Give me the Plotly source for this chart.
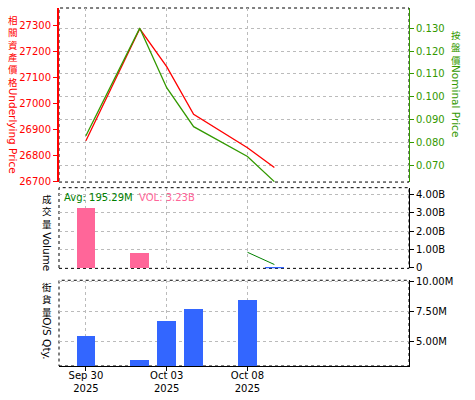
import pandas as pd
import plotly.graph_objects as go

# ---- data ------------------------------------------------------------------
dates = ["2025-09-30", "2025-10-02", "2025-10-03", "2025-10-06", "2025-10-08", "2025-10-09"]
underlying = [26856, 27287, 27141, 26958, 26829, 26753]
nominal = [0.083, 0.130, 0.104, 0.087, 0.074, 0.063]

vol_dates = ["2025-09-30", "2025-10-02", "2025-10-09"]
volume = [3.28e9, 0.85e9, 0.05e9]
vol_colors = ["#ff6699", "#ff6699", "#3366ff"]

avg_dates = ["2025-10-08", "2025-10-09"]
avg_volume = [0.85e9, 0.18e9]

os_dates = ["2025-09-30", "2025-10-02", "2025-10-03", "2025-10-06", "2025-10-08"]
os_qty = [5.41e6, 3.43e6, 6.66e6, 7.65e6, 8.48e6]

tick_dates = ["2025-09-30", "2025-10-03", "2025-10-08"]
tick_text = ["Sep 30<br>2025", "Oct 03<br>2025", "Oct 08<br>2025"]

vol_ticks = [0, 1e9, 2e9, 3e9, 4e9]
vol_ticktext = ["0", "1.00B", "2.00B", "3.00B", "4.00B"]
os_ticks = [5e6, 7.5e6, 10e6]
os_ticktext = ["5.00M", "7.50M", "10.00M"]

RED = "#ff0000"
GREEN = "#339900"
GRID = "#bbbbbb"
FONT = "DejaVu Sans"
CJK = "Noto Sans CJK TC"


def mid(d):
    # centre each trading day at noon so bars never touch a weekend break
    return pd.to_datetime(pd.Series(d)) + pd.Timedelta(hours=12)


fig = go.Figure()

fig.add_trace(go.Scatter(x=mid(dates), y=underlying, mode="lines",
                         line=dict(color=RED, width=1.3), xaxis="x", yaxis="y"))
fig.add_trace(go.Scatter(x=mid(dates), y=nominal, mode="lines",
                         line=dict(color=GREEN, width=1.3), xaxis="x", yaxis="y2"))
fig.add_trace(go.Bar(x=mid(vol_dates), y=volume, marker=dict(color=vol_colors, line=dict(width=0)),
                     width=0.7 * 86400000, xaxis="x2", yaxis="y3"))
fig.add_trace(go.Scatter(x=mid(avg_dates), y=avg_volume, mode="lines",
                         line=dict(color="#008000", width=1), xaxis="x2", yaxis="y3"))
fig.add_trace(go.Bar(x=mid(os_dates), y=os_qty, marker=dict(color="#3366ff", line=dict(width=0)),
                     width=0.7 * 86400000, xaxis="x3", yaxis="y4"))

x_common = dict(
    type="date",
    range=[mid(["2025-09-29"])[0], mid(["2025-10-16"])[0]],
    rangebreaks=[dict(bounds=["sat", "mon"])],
    tickvals=mid(tick_dates),
    ticktext=tick_text,
    showgrid=True, gridcolor=GRID, griddash="dot", gridwidth=1,
    zeroline=False, fixedrange=True,
    tickfont=dict(family=FONT, size=10, color="black"),
)

fig.update_layout(
    width=475, height=400,
    margin=dict(l=59, r=66, t=4, b=34),
    paper_bgcolor="white", plot_bgcolor="white",
    showlegend=False, bargap=0,
    xaxis=dict(x_common, anchor="y", showticklabels=False),
    xaxis2=dict(x_common, anchor="y3", showticklabels=False),
    xaxis3=dict(x_common, anchor="y4", ticks="outside", ticklen=4, tickcolor="black",
                showline=True, linecolor="black", linewidth=1, ticklabelstandoff=-4),
    yaxis=dict(domain=[0.5138, 1], anchor="x", side="left",
               range=[26697, 27367], tick0=26700, dtick=100, tickformat="d",
               showgrid=False, zeroline=False,
               showline=True, linecolor=RED, linewidth=2,
               ticks="outside", ticklen=4, tickcolor=RED,
               tickfont=dict(family=FONT, size=10, color=RED)),
    yaxis2=dict(overlaying="y", anchor="x", side="right",
                range=[0.0628, 0.1388], tick0=0.07, dtick=0.01, tickformat=".3f",
                showgrid=True, gridcolor=GRID, griddash="dot", zeroline=False,
                showline=True, linecolor=GREEN, linewidth=1,
                ticks="outside", ticklen=4, tickcolor=GREEN,
                tickfont=dict(family=FONT, size=10, color=GREEN)),
    yaxis3=dict(domain=[0.2727, 0.4981], anchor="x2", side="right",
                range=[-0.03e9, 4.38e9], tickvals=vol_ticks, ticktext=vol_ticktext,
                showgrid=True, gridcolor=GRID, griddash="dot", zeroline=False,
                showline=True, linecolor="black", linewidth=1,
                ticks="outside", ticklen=4, tickcolor="black",
                tickfont=dict(family=FONT, size=10, color="black")),
    yaxis4=dict(domain=[0, 0.2395], anchor="x3", side="right",
                range=[2.93e6, 10.12e6], tickvals=os_ticks, ticktext=os_ticktext,
                showgrid=True, gridcolor=GRID, griddash="dot", zeroline=False,
                showline=True, linecolor="black", linewidth=1,
                ticks="outside", ticklen=4, tickcolor="black",
                tickfont=dict(family=FONT, size=10, color="black")),
)

# dotted panel frames
for xr, yr in [("x", "y"), ("x2", "y3"), ("x3", "y4")]:
    fig.add_shape(type="rect", xref=f"{xr} domain", yref=f"{yr} domain",
                  x0=0, x1=1, y0=0, y1=1, layer="below",
                  line=dict(color="black", width=1, dash="dot"))


def px_x(x):
    return (x - 59) / 350


def px_y(y):
    return (366 - y) / 362


def vertical_title(cjk, latin, x, y0, latin_mid, color):
    # upright stacked CJK glyphs (one block) followed by rotated latin text
    fig.add_annotation(text="<br>".join(cjk), x=px_x(x), y=px_y(y0),
                       xref="paper", yref="paper", xanchor="center", yanchor="top",
                       showarrow=False, borderpad=0,
                       font=dict(family=CJK, size=9.5, color=color))
    fig.add_annotation(text=latin, x=px_x(x), y=px_y(latin_mid),
                       xref="paper", yref="paper", xanchor="center", yanchor="middle",
                       textangle=90, showarrow=False, borderpad=0,
                       font=dict(family=FONT, size=10.5, color=color))


vertical_title("相關資產價格", "Underlying Price", 13, 8, 128, RED)
vertical_title("按盤價", "Nominal Price", 456, 23, 98, GREEN)
vertical_title("成交量", "Volume", 47, 189, 250, "black")
vertical_title("街貨量", "O/S Qty.", 47, 278, 338, "black")

fig.add_annotation(
    text="<span style='color:#008000'>Avg: 195.29M</span>  "
         "<span style='color:#ff6699'>VOL: 3.23B</span>",
    x=px_x(62), y=px_y(196), xref="paper", yref="paper",
    xanchor="left", yanchor="middle", showarrow=False,
    font=dict(family=FONT, size=10),
)

fig.write_html("out.html", config={"displayModeBar": False},
               post_script="document.body.style.margin = '0';")
